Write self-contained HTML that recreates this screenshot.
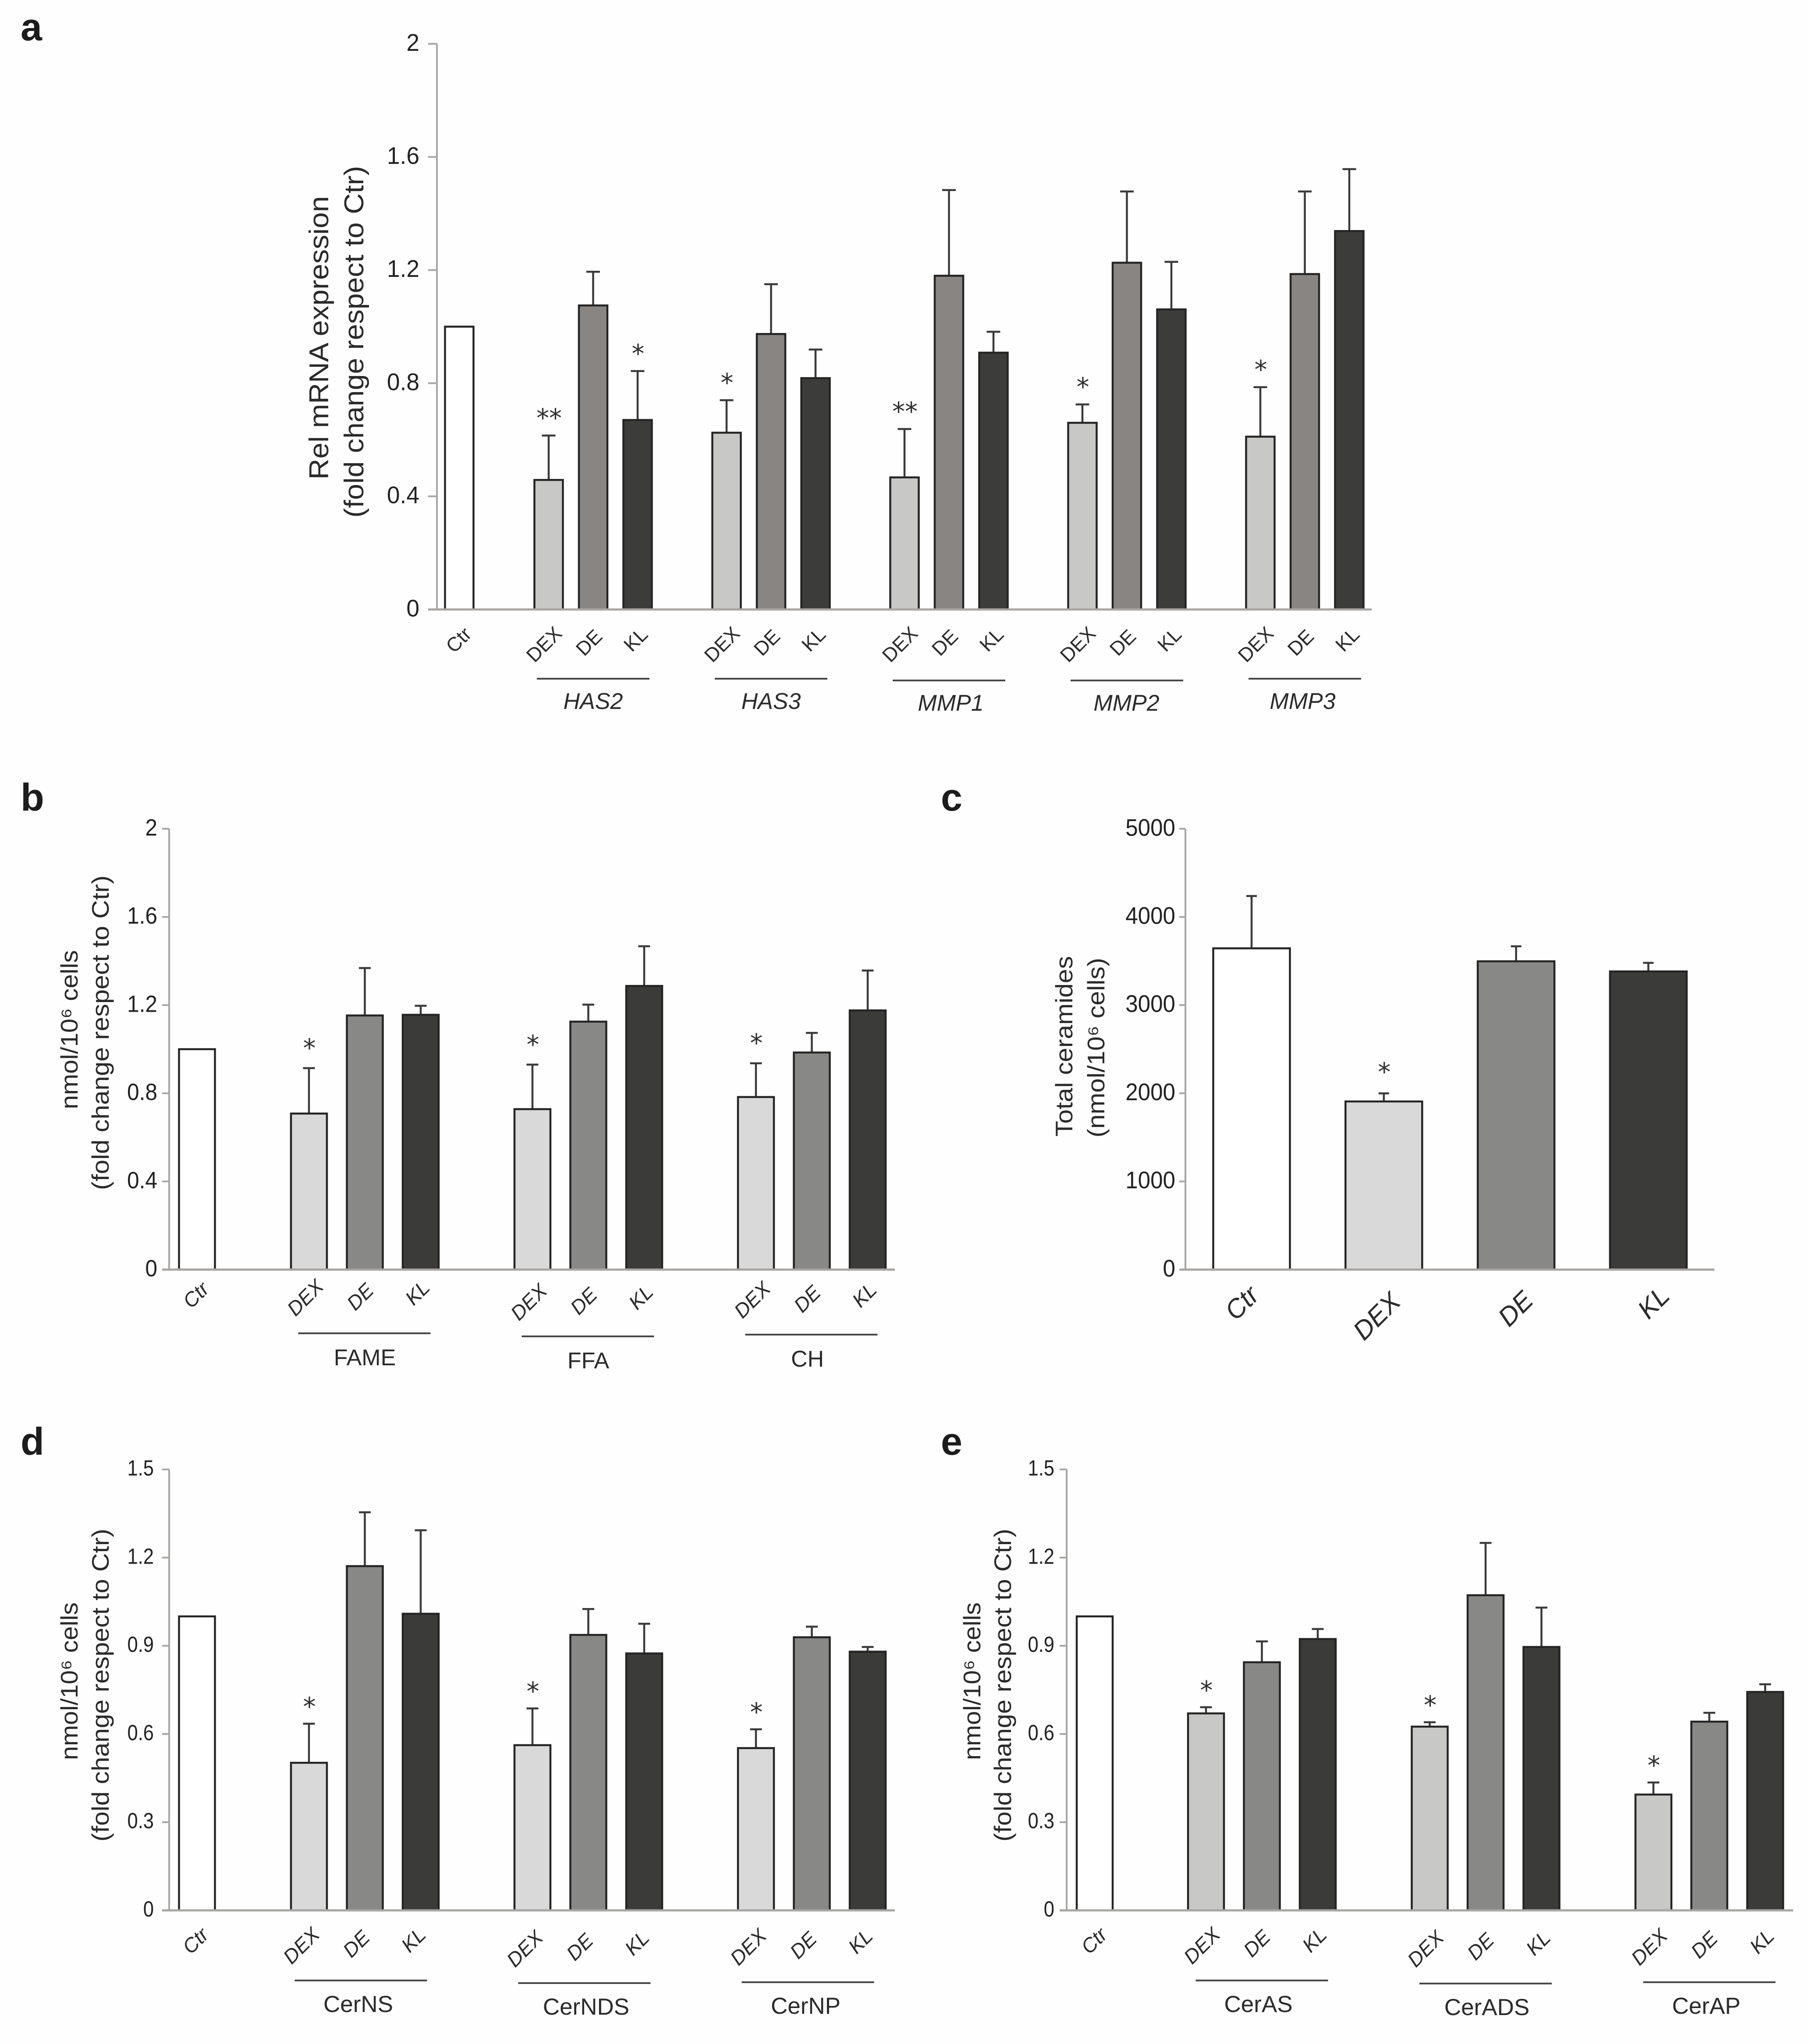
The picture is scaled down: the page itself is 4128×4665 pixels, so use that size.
<!DOCTYPE html>
<html lang="en">
<head>
<meta charset="utf-8">
<title>Multi-panel bar charts</title>
<style>
html,body{margin:0;padding:0;background:#fff;}
svg{display:block;font-family:"Liberation Sans",sans-serif;}
.letter{font-size:88px;font-weight:700;fill:#1c1c1c;}
.ytitle{fill:#2a2a2a;text-anchor:middle;}
</style>
</head>
<body>
<svg id="figure" xmlns="http://www.w3.org/2000/svg" width="4128" height="4665" viewBox="0 0 4128 4665">
<rect x="0" y="0" width="4128" height="4665" fill="#fefefe"/>
<text class="letter" x="47" y="92">a</text>
<text class="letter" x="47" y="1850">b</text>
<text class="letter" x="2147" y="1850">c</text>
<text class="letter" x="47" y="3320">d</text>
<text class="letter" x="2147" y="3320">e</text>
<text class="ytitle" font-size="62" textLength="647" lengthAdjust="spacingAndGlyphs" transform="translate(749 771) rotate(-90)">Rel mRNA expression</text>
<text class="ytitle" font-size="62" textLength="803" lengthAdjust="spacingAndGlyphs" transform="translate(829 780) rotate(-90)">(fold change respect to Ctr)</text>
<text class="ytitle" font-size="55" textLength="363" lengthAdjust="spacingAndGlyphs" transform="translate(177 2350) rotate(-90)">nmol/10⁶ cells</text>
<text class="ytitle" font-size="55" textLength="718" lengthAdjust="spacingAndGlyphs" transform="translate(248 2357) rotate(-90)">(fold change respect to Ctr)</text>
<text class="ytitle" font-size="55" textLength="412" lengthAdjust="spacingAndGlyphs" transform="translate(2447 2388) rotate(-90)">Total ceramides</text>
<text class="ytitle" font-size="55" textLength="410" lengthAdjust="spacingAndGlyphs" transform="translate(2520 2391) rotate(-90)">(nmol/10⁶ cells)</text>
<text class="ytitle" font-size="55" textLength="360" lengthAdjust="spacingAndGlyphs" transform="translate(177 3837) rotate(-90)">nmol/10⁶ cells</text>
<text class="ytitle" font-size="55" textLength="714" lengthAdjust="spacingAndGlyphs" transform="translate(248 3846) rotate(-90)">(fold change respect to Ctr)</text>
<text class="ytitle" font-size="55" textLength="360" lengthAdjust="spacingAndGlyphs" transform="translate(2237 3837) rotate(-90)">nmol/10⁶ cells</text>
<text class="ytitle" font-size="55" textLength="714" lengthAdjust="spacingAndGlyphs" transform="translate(2307 3846) rotate(-90)">(fold change respect to Ctr)</text>
</svg>
<script>
// ---------- Panel a ----------
const aTicks = [0, 0.4, 0.8, 1.2, 1.6, 2];
const aTickLabels = ['0', '0.4', '0.8', '1.2', '1.6', '2'];
const aCategories = ['DEX', 'DE', 'KL'];
const aGroups = ['HAS2', 'HAS3', 'MMP1', 'MMP2', 'MMP3'];
const aControl = [1];
const aMeans = [[0.458, 1.075, 0.67], [0.625, 0.974, 0.818], [0.467, 1.18, 0.908], [0.66, 1.226, 1.061], [0.611, 1.186, 1.338]];
const aUpper = [[0.615, 1.194, 0.843], [0.74, 1.15, 0.919], [0.638, 1.483, 0.982], [0.725, 1.478, 1.229], [0.786, 1.478, 1.557]];
const aStars = [['**', '', '*'], ['*', '', ''], ['**', '', ''], ['*', '', ''], ['*', '', '']];

// ---------- Panel b ----------
const bTicks = [0, 0.4, 0.8, 1.2, 1.6, 2];
const bTickLabels = ['0', '0.4', '0.8', '1.2', '1.6', '2'];
const bCategories = ['DEX', 'DE', 'KL'];
const bGroups = ['FAME', 'FFA', 'CH'];
const bControl = [1];
const bMeans = [[0.708, 1.153, 1.156], [0.728, 1.125, 1.287], [0.783, 0.985, 1.176]];
const bUpper = [[0.914, 1.368, 1.197], [0.93, 1.202, 1.467], [0.936, 1.074, 1.357]];
const bStars = [['*', '', ''], ['*', '', ''], ['*', '', '']];

// ---------- Panel c ----------
const cTicks = [0, 1000, 2000, 3000, 4000, 5000];
const cTickLabels = ['0', '1000', '2000', '3000', '4000', '5000'];
const cCategories = ['Ctr', 'DEX', 'DE', 'KL'];
const cMeans = [[3644, 1907, 3497, 3382]];
const cUpper = [[4237, 1999, 3667, 3479]];
const cStars = [['', '*', '', '']];

// ---------- Panel d ----------
const dTicks = [0, 0.3, 0.6, 0.9, 1.2, 1.5];
const dTickLabels = ['0', '0.3', '0.6', '0.9', '1.2', '1.5'];
const dCategories = ['DEX', 'DE', 'KL'];
const dGroups = ['CerNS', 'CerNDS', 'CerNP'];
const dControl = [1];
const dMeans = [[0.502, 1.171, 1.009], [0.562, 0.937, 0.874], [0.552, 0.929, 0.88]];
const dUpper = [[0.635, 1.354, 1.293], [0.687, 1.025, 0.975], [0.616, 0.965, 0.896]];
const dStars = [['*', '', ''], ['*', '', ''], ['*', '', '']];

// ---------- Panel e ----------
const eTicks = [0, 0.3, 0.6, 0.9, 1.2, 1.5];
const eTickLabels = ['0', '0.3', '0.6', '0.9', '1.2', '1.5'];
const eCategories = ['DEX', 'DE', 'KL'];
const eGroups = ['CerAS', 'CerADS', 'CerAP'];
const eControl = [1];
const eMeans = [[0.67, 0.844, 0.923], [0.625, 1.072, 0.896], [0.394, 0.642, 0.743]];
const eUpper = [[0.691, 0.915, 0.957], [0.64, 1.25, 1.03], [0.435, 0.672, 0.769]];
const eStars = [['*', '', ''], ['*', '', ''], ['*', '', '']];

const root = document.getElementById('figure');
const NS = 'http://www.w3.org/2000/svg';

function make(tag, attrs, name, parent) {
  const el = document.createElementNS(NS, tag);
  for (const k in attrs) el.setAttribute(k, attrs[k]);
  
  
  (parent || root).appendChild(el);
  return el;
}

function drawPanel(p) {
  const g = make('g', {}, p.id + '-panel');
  const maxV = p.ticks[p.ticks.length - 1];
  const y = v => p.y0 - (v / maxV) * (p.y0 - p.yTop);
  const barX = (groupIdx, catIdx) => p.x0 + groupIdx * p.groupStep + catIdx * p.barStep;

  function rotatedLabel(txt, cx, cy, name) {
    const t = make('text', {
      x: cx, y: cy + p.labelFont * 0.36, 'text-anchor': 'middle', 'font-size': p.labelFont,
      'font-style': p.labelItalic ? 'italic' : 'normal', fill: '#2b2b2b',
      transform: 'rotate(-45 ' + cx + ' ' + cy + ')'
    }, name, g);
    t.textContent = txt;
  }

  function drawBar(cx, mean, upper, fill, star, label, name) {
    if (upper !== null) {
      make('line', {x1: cx, x2: cx, y1: y(mean), y2: y(upper), stroke: '#3a3a3a', 'stroke-width': 4.5}, name + '-error-stem', g);
      make('line', {x1: cx - p.cap / 2, x2: cx + p.cap / 2, y1: y(upper), y2: y(upper), stroke: '#3a3a3a', 'stroke-width': 4.5}, name + '-error-cap', g);
    }
    make('rect', {x: cx - p.barW / 2, y: y(mean), width: p.barW, height: p.y0 - y(mean), fill: fill, stroke: '#242424', 'stroke-width': 4.5}, name, g);
    if (star) {
      const s = make('text', {
        x: cx + 1, y: y(upper) - p.starGap + 17, 'text-anchor': 'middle', 'font-size': 58,
        'font-family': '"DejaVu Sans",sans-serif', fill: '#2f2f2f'
      }, name + '-significance', g);
      s.textContent = star;
    }
  }

  if (p.control) {
    drawBar(p.ctrX, p.control[0], null, '#ffffff', '', 'Ctr', 'bar-ctr');
    rotatedLabel('Ctr', p.ctrX + p.ctrDx, p.ctrY, 'x-label-ctr');
  }

  p.means.forEach((row, gi) => {
    row.forEach((m, ci) => {
      const cx = barX(gi, ci);
      const tag = (p.groups ? p.groups[gi] + '-' : '') + p.categories[ci];
      drawBar(cx, m, p.upper[gi][ci], p.colors[ci], p.stars[gi][ci], p.categories[ci], ('bar-' + tag).toLowerCase());
      rotatedLabel(p.categories[ci], cx + p.labelDx[ci], p.labelY[ci] + p.labelJog[gi], ('x-label-' + tag).toLowerCase());
    });
    if (p.groups) {
      const mid = barX(gi, 1);
      const lineY = p.lineY + p.lineJog[gi];
      make('line', {x1: mid + p.lineDx - p.lineW / 2, x2: mid + p.lineDx + p.lineW / 2, y1: lineY, y2: lineY, stroke: '#484848', 'stroke-width': 4}, 'group-line-' + p.groups[gi].toLowerCase(), g);
      const t = make('text', {
        x: mid + p.textDx[gi], y: p.groupTextY + p.lineJog[gi], 'text-anchor': 'middle',
        'font-size': p.groupFont, 'font-style': p.groupItalic ? 'italic' : 'normal', fill: '#2b2b2b'
      }, 'group-label-' + p.groups[gi].toLowerCase(), g);
      t.textContent = p.groups[gi];
    }
  });

  // axes on top of the bar bases
  make('line', {x1: p.axisX, x2: p.axisX, y1: p.yTop, y2: p.y0, stroke: '#a8a6a4', 'stroke-width': 4}, p.id + '-y-axis', g);
  make('line', {x1: p.tickX, x2: p.axisEnd, y1: p.y0, y2: p.y0, stroke: '#a8a6a4', 'stroke-width': 5}, p.id + '-x-axis', g);
  p.ticks.forEach((v, i) => {
    make('line', {x1: p.tickX, x2: p.axisX, y1: y(v), y2: y(v), stroke: '#a8a6a4', 'stroke-width': 4}, p.id + '-y-tick', g);
    const t = make('text', {
      x: 0, y: 0, 'text-anchor': 'end', 'font-size': p.tickFont, fill: '#222222',
      transform: 'translate(' + p.labelRight + ' ' + (y(v) + p.tickFont * 0.36 - 4) + ') scale(' + p.tickScale + ' 1)'
    }, p.id + '-y-tick-label', g);
    t.textContent = p.tickLabels[i];
  });
}

drawPanel({
  id: 'a', ticks: aTicks, tickLabels: aTickLabels, categories: aCategories, groups: aGroups, control: aControl,
  means: aMeans, upper: aUpper, stars: aStars,
  colors: ['#c8c8c6', '#888583', '#3c3c3a'],
  y0: 1391, yTop: 100, axisX: 997, tickX: 977, axisEnd: 3130, labelRight: 957, tickFont: 55, tickScale: 0.97,
  ctrX: 1048, ctrDx: -2, ctrY: 1460, x0: 1252, groupStep: 406, barStep: 101.5, barW: 65, cap: 31, starGap: 37,
  labelFont: 45, labelItalic: false, labelDx: [-11, -10, -5], labelY: [1470, 1466, 1459], labelJog: [0, 0, 0, 0, 0],
  lineY: 1549, lineJog: [0, 0, 4, 4, 0], lineDx: 0, lineW: 257, textDx: [0, 0, 4, -1, -5], groupTextY: 1618, groupFont: 52, groupItalic: true
});

drawPanel({
  id: 'b', ticks: bTicks, tickLabels: bTickLabels, categories: bCategories, groups: bGroups, control: bControl,
  means: bMeans, upper: bUpper, stars: bStars,
  colors: ['#d9d9d9', '#888887', '#3b3b39'],
  y0: 2897.6, yTop: 1891.5, axisX: 386, tickX: 370, axisEnd: 2042, labelRight: 359, tickFont: 54, tickScale: 0.92,
  ctrX: 449.5, ctrDx: -3, ctrY: 2955, x0: 705, groupStep: 510, barStep: 127.5, barW: 82, cap: 27, starGap: 43,
  labelFont: 46, labelItalic: true, labelDx: [-9, -11, -8], labelY: [2961, 2959, 2950], labelJog: [0, 10, 5],
  lineY: 3043, lineJog: [0, 7, 3], lineDx: -1, lineW: 302, textDx: [0, 0, -10], groupTextY: 3116, groupFont: 52, groupItalic: false
});

drawPanel({
  id: 'c', ticks: cTicks, tickLabels: cTickLabels, categories: cCategories, groups: null, control: null,
  means: cMeans, upper: cUpper, stars: cStars,
  colors: ['#ffffff', '#d9d9d9', '#888887', '#3b3b39'],
  y0: 2897.6, yTop: 1891.5, axisX: 2705, tickX: 2691, axisEnd: 3912, labelRight: 2682, tickFont: 55, tickScale: 0.93,
  x0: 2856, groupStep: 0, barStep: 301.8, barW: 175, cap: 24, starGap: 46,
  labelFont: 60, labelItalic: true, labelDx: [-23, -17, -2, 11], labelY: [2973, 3003, 2986, 2972], labelJog: [0]
});

drawPanel({
  id: 'd', ticks: dTicks, tickLabels: dTickLabels, categories: dCategories, groups: dGroups, control: dControl,
  means: dMeans, upper: dUpper, stars: dStars,
  colors: ['#d9d9d9', '#888887', '#3b3b39'],
  y0: 4360, yTop: 3353.6, axisX: 386, tickX: 370, axisEnd: 2042, labelRight: 351, tickFont: 50, tickScale: 0.87,
  ctrX: 449.5, ctrDx: -4, ctrY: 4429, x0: 705, groupStep: 510, barStep: 127.5, barW: 82, cap: 27, starGap: 36,
  labelFont: 46, labelItalic: true, labelDx: [-18, -20, -17], labelY: [4440, 4436, 4427], labelJog: [0, 7, 3],
  lineY: 4520, lineJog: [0, 6, 4], lineDx: -9, lineW: 302, textDx: [-15, -5, -14], groupTextY: 4592, groupFont: 53, groupItalic: false
});

drawPanel({
  id: 'e', ticks: eTicks, tickLabels: eTickLabels, categories: eCategories, groups: eGroups, control: eControl,
  means: eMeans, upper: eUpper, stars: eStars,
  colors: ['#c8c8c6', '#888887', '#3b3b39'],
  y0: 4360, yTop: 3353.6, axisX: 2434, tickX: 2418, axisEnd: 4092, labelRight: 2406, tickFont: 50, tickScale: 0.87,
  ctrX: 2498, ctrDx: -2, ctrY: 4429, x0: 2752, groupStep: 510.5, barStep: 127.5, barW: 82, cap: 27, starGap: 36,
  labelFont: 46, labelItalic: true, labelDx: [-10, -12, -8], labelY: [4440, 4435, 4427], labelJog: [0, 7, 3],
  lineY: 4520, lineJog: [0, 7, 4], lineDx: 0, lineW: 302, textDx: [-8, 3, -7], groupTextY: 4592, groupFont: 53, groupItalic: false
});
</script>
</body>
</html>
